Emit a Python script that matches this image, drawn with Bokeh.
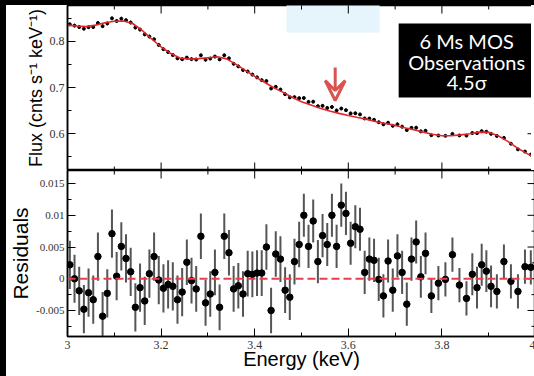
import math
from bokeh.plotting import figure
from bokeh.models import (Range1d, LinearAxis, BoxAnnotation, Arrow, VeeHead, Span,
                          FixedTicker, CustomJSTickFormatter, Label, GlobalInlineStyleSheet)
from bokeh.layouts import column
from bokeh.embed import file_html
from bokeh.resources import INLINE

# ---------------- data ----------------
energy = [3.005, 3.015, 3.025, 3.035, 3.045, 3.055, 3.065, 3.075, 3.085, 3.095,
          3.105, 3.115, 3.125, 3.135, 3.145, 3.155, 3.165, 3.175, 3.185, 3.195,
          3.205, 3.215, 3.225, 3.235, 3.245, 3.255, 3.265, 3.275, 3.285, 3.295,
          3.305, 3.315, 3.325, 3.335, 3.345, 3.355, 3.365, 3.375, 3.385, 3.395,
          3.405, 3.415, 3.425, 3.435, 3.445, 3.455, 3.465, 3.475, 3.485, 3.495,
          3.505, 3.515, 3.525, 3.535, 3.545, 3.555, 3.565, 3.575, 3.585, 3.595,
          3.605, 3.615, 3.625, 3.635, 3.645, 3.655, 3.665, 3.675, 3.685, 3.695,
          3.705, 3.715, 3.725, 3.735, 3.745, 3.755, 3.765,
          3.7775, 3.7925, 3.8075, 3.8225, 3.8375, 3.8525, 3.865, 3.875, 3.885,
          3.895, 3.905, 3.9175, 3.9325, 3.9475, 3.9625, 3.9775, 3.99]

residuals = [0.0022, 0.0000, -0.0019, -0.0048, -0.0022, -0.0033, 0.0035, -0.0059, -0.0023, 0.0071,
             0.0004, 0.0051, 0.0032, 0.0011, -0.0045, -0.0014, -0.0035, 0.0008, 0.0035, -0.0002,
             -0.0015, -0.0009, -0.0012, -0.0033, -0.0021, 0.0026, -0.0003, -0.0016, 0.0067, -0.0038,
             -0.0024, 0.0010, -0.0045, 0.0067, 0.0041, -0.0016, -0.0011, -0.0024, 0.0008, 0.0007,
             0.0009, 0.0009, 0.0050, -0.0050, 0.0039, 0.0031, -0.0018, -0.0029, 0.0027, 0.0054,
             0.0100, 0.0051, 0.0091, 0.0027, 0.0068, 0.0054, 0.0100, 0.0051, 0.0116, 0.0103,
             0.0056, 0.0082, 0.0078, 0.0010, 0.0031, 0.0029, -0.0001, -0.0027, 0.0028, -0.0018,
             0.0036, 0.0010, -0.0040, 0.0031, 0.0058, 0.0003, 0.0040,
             -0.0027, -0.0007, -0.0001, 0.0038, -0.0010, -0.0031, 0.0007, -0.0014, 0.0022,
             0.0012, -0.0012, -0.0020, 0.0027, -0.0004, -0.0020, 0.0019, 0.0018]

errors = [0.0038] * 25 + [0.0036] * 25 + [0.0034] * 25 + [0.0033, 0.0033] + \
         [0.0027] * 6 + [0.0033] * 5 + [0.0027] * 6

flux = [0.8367, 0.8340, 0.8309, 0.8274, 0.8305, 0.8309, 0.8397, 0.8328, 0.8386, 0.8497,
        0.8440, 0.8490, 0.8457, 0.8406, 0.8298, 0.8254, 0.8150, 0.8103, 0.8043, 0.7921,
        0.7830, 0.7766, 0.7703, 0.7632, 0.7613, 0.7647, 0.7615, 0.7606, 0.7697, 0.7602,
        0.7626, 0.7670, 0.7609, 0.7698, 0.7631, 0.7514, 0.7457, 0.7379, 0.7346, 0.7280,
        0.7219, 0.7159, 0.7140, 0.6980, 0.7014, 0.6956, 0.6855, 0.6786, 0.6792, 0.6769,
        0.6773, 0.6689, 0.6694, 0.6595, 0.6603, 0.6559, 0.6578, 0.6504, 0.6545, 0.6509,
        0.6440, 0.6443, 0.6418, 0.6330, 0.6329, 0.6302, 0.6249, 0.6203, 0.6238, 0.6172,
        0.6204, 0.6153, 0.6079, 0.6127, 0.6131, 0.6051, 0.6064,
        0.5969, 0.5961, 0.5954, 0.5996, 0.5963, 0.5959, 0.6016, 0.6012, 0.6056,
        0.6043, 0.5999, 0.5953, 0.5910, 0.5784, 0.5662, 0.5614, 0.5548]

model_energy = [3.00, 3.02, 3.04, 3.06, 3.08, 3.10, 3.12, 3.14, 3.16, 3.18,
                3.20, 3.22, 3.24, 3.26, 3.28, 3.30, 3.32, 3.34, 3.36, 3.38,
                3.40, 3.42, 3.44, 3.46, 3.48, 3.50, 3.52, 3.54, 3.56, 3.58,
                3.60, 3.62, 3.64, 3.66, 3.68, 3.70, 3.72, 3.74, 3.76, 3.78,
                3.80, 3.82, 3.84, 3.86, 3.88, 3.90, 3.92, 3.94, 3.96, 3.98, 4.00]
model_flux = [0.835, 0.833, 0.832, 0.835, 0.840, 0.8435, 0.8440, 0.838, 0.823, 0.805,
              0.788, 0.774, 0.764, 0.7615, 0.7625, 0.7645, 0.7665, 0.762, 0.750, 0.737,
              0.724, 0.712, 0.700, 0.690, 0.679, 0.669, 0.662, 0.655, 0.649, 0.644,
              0.6395, 0.635, 0.631, 0.626, 0.622, 0.618, 0.613, 0.6085, 0.6035, 0.599,
              0.5955, 0.5955, 0.5975, 0.600, 0.6035, 0.603, 0.5955, 0.584, 0.570, 0.558, 0.548]

x_ticks = [3.0, 3.2, 3.4, 3.6, 3.8, 4.0]
x_minor = [3.1, 3.3, 3.5, 3.7, 3.9]
flux_ticks = [0.6, 0.7, 0.8]
flux_minor = [0.55, 0.65, 0.75, 0.85]
res_ticks = [-0.005, 0.0, 0.005, 0.01, 0.015]
res_minor = [-0.0075, -0.0025, 0.0025, 0.0075, 0.0125]

box_lines = ["6 Ms MOS", "Observations", "4.5\u03c3"]

# ---------------- styling helpers ----------------
TICK_FONT = "Liberation Serif"
LABEL_FONT = "Liberation Sans"
X0, X1 = 3.0, 4.0
MAJ, MIN = 8, 4
FRAME_W = 468


def make_axis(ticks, minor):
    ax = LinearAxis(ticker=FixedTicker(ticks=ticks, minor_ticks=minor))
    ax.formatter = CustomJSTickFormatter(code="return String(tick);")
    ax.major_tick_in = MAJ
    ax.major_tick_out = 0
    ax.minor_tick_in = MIN
    ax.minor_tick_out = 0
    ax.axis_line_color = "black"
    ax.axis_line_width = 1.5
    ax.major_tick_line_color = "black"
    ax.minor_tick_line_color = "black"
    ax.major_label_text_font = TICK_FONT
    ax.major_label_text_font_size = "12px"
    ax.major_label_text_color = "#333333"
    ax.major_label_standoff = 3
    ax.axis_label_text_font = LABEL_FONT
    ax.axis_label_text_font_style = "normal"
    ax.axis_label_text_color = "black"
    ax.axis_label_standoff = 1
    return ax


def inner_ticks(p, xt, xm, yt, ym, y_lo, y_hi, top=True, bottom=False):
    # inward tick marks on unlabeled sides: dash markers centred on the frame edge,
    # the outer half is clipped away by the frame
    edges = []
    if top:
        edges.append(y_hi)
    if bottom:
        edges.append(y_lo)
    for yy in edges:
        p.scatter(xt, [yy] * len(xt), marker="dash", size=2 * MAJ, angle=math.pi / 2,
                  line_color="black", line_width=1)
        p.scatter(xm, [yy] * len(xm), marker="dash", size=2 * MIN, angle=math.pi / 2,
                  line_color="black", line_width=1)
    p.scatter([X1] * len(yt), yt, marker="dash", size=2 * MAJ, line_color="black", line_width=1)
    p.scatter([X1] * len(ym), ym, marker="dash", size=2 * MIN, line_color="black", line_width=1)


def base_fig(y0, y1, fh):
    p = figure(frame_width=FRAME_W, frame_height=fh, x_range=Range1d(X0, X1), y_range=Range1d(y0, y1),
               x_axis_type=None, y_axis_type=None, output_backend="svg", toolbar_location=None,
               min_border_left=57, min_border_right=0, min_border_top=0, min_border_bottom=0)
    p.grid.visible = False
    p.outline_line_color = "black"
    p.outline_line_width = 1.5
    p.background_fill_color = "white"
    p.border_fill_color = "white"
    return p


# ---------------- top panel ----------------
F0, F1 = 0.5204, 0.8775
p1 = base_fig(F0, F1, 165)
ay1 = make_axis(flux_ticks, flux_minor)
ay1.axis_label = "Flux (cnts s\u207b\u00b9 keV\u207b\u00b9)"
ay1.axis_label_text_font_size = "18px"
p1.add_layout(ay1, "left")
inner_ticks(p1, x_ticks, x_minor, flux_ticks, flux_minor, F0, F1, top=True, bottom=True)

p1.add_layout(BoxAnnotation(left=3.468, right=3.667, bottom=0.819, top=0.90,
                            fill_color="#e6f4fb", fill_alpha=1, line_color=None, level="underlay"))

flux_lo = [f - e for f, e in zip(flux, errors)]
flux_hi = [f + e for f, e in zip(flux, errors)]
p1.segment(x0=energy, y0=flux_lo, x1=energy, y1=flux_hi, line_color="black", line_width=1)
p1.scatter(energy, flux, size=3, color="black")
p1.line(model_energy, model_flux, line_color="#e3262a", line_width=1.6)

p1.add_layout(Arrow(x_start=3.572, y_start=0.7433, x_end=3.572, y_end=0.6719,
                    line_color="#d9534f", line_width=3,
                    end=VeeHead(size=20, line_color="#d9534f", line_width=3,
                                fill_color="#d9534f", fill_alpha=0)))

p1.add_layout(BoxAnnotation(left=3.7076, right=4.0, bottom=0.6784, top=0.8385,
                            fill_color="black", fill_alpha=1, line_color=None))
for txt, yy in zip(box_lines, [0.8017, 0.7548, 0.7115]):
    p1.add_layout(Label(x=3.853, y=yy, text=txt, text_align="center", text_baseline="middle",
                        text_color="white", text_font="Lato", text_font_size="20px"))

# ---------------- bottom panel ----------------
R0, R1 = -0.0091, 0.01706
p2 = base_fig(R0, R1, 166)
p2.x_range = p1.x_range
ay2 = make_axis(res_ticks, res_minor)
ay2.axis_label = "Residuals"
ay2.axis_label_text_font_size = "21px"
ay2.major_label_text_font_size = "11px"
p2.add_layout(ay2, "left")
ax2 = make_axis(x_ticks, x_minor)
ax2.axis_label = "Energy (keV)"
ax2.axis_label_text_font_size = "20px"
ax2.axis_label_standoff = -4
ax2.major_label_standoff = 4
p2.add_layout(ax2, "below")
inner_ticks(p2, x_ticks, x_minor, res_ticks, res_minor, R0, R1, top=True, bottom=False)

p2.add_layout(Span(location=0, dimension="width", line_color="#e8404a", line_width=2,
                   line_dash="8 4"))
res_lo = [r - e for r, e in zip(residuals, errors)]
res_hi = [r + e for r, e in zip(residuals, errors)]
p2.segment(x0=energy, y0=res_lo, x1=energy, y1=res_hi, line_color="#555555", line_width=2)
p2.scatter(energy, residuals, size=6.5, color="black")

layout = column(p1, p2, spacing=0)
layout.stylesheets = [GlobalInlineStyleSheet(
    css="html { background: #ffffff; overflow: hidden; } "
        "body { margin: 0; border-left: 6px solid #000000; border-top: 5px solid #000000; "
        "background: #ffffff; overflow: hidden; }")]

open("out.html", "w").write(file_html(layout, INLINE))
